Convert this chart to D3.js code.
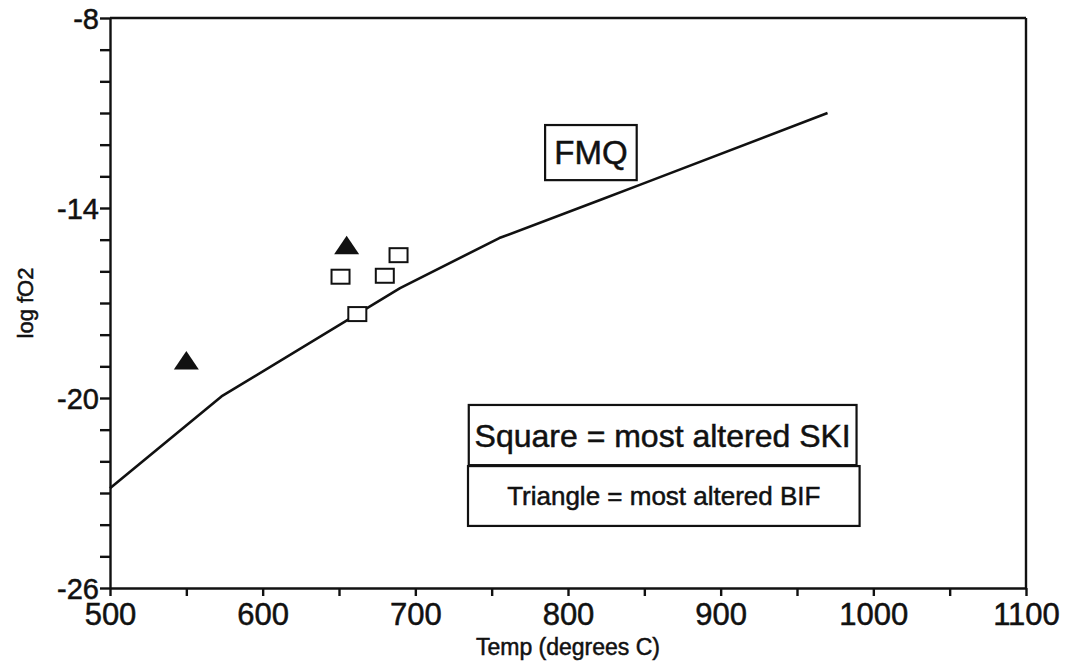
<!DOCTYPE html>
<html>
<head>
<meta charset="utf-8">
<script src="https://cdn.jsdelivr.net/npm/d3@7/dist/d3.min.js"></script>
<style>
  body { margin: 0; background: #fff; }
  svg { display: block; font-family: "Liberation Sans", Arial, sans-serif; }
  .axis path, .axis line { stroke: #111; stroke-width: 2.4; }
  .axis text, .lbl { fill: #111; stroke: #111; stroke-width: 0.5; }
</style>
</head>
<body>
<div id="chart"></div>
<script>
const WIDTH = 1065;
const HEIGHT = 666;
const MARGIN = { top: 18, right: 39, bottom: 78, left: 110 };

// FMQ buffer curve (temperature, log fO2)
const fmqTemp = [500, 573, 690, 755, 821, 847, 970];
const fmqLogF = [-22.85, -19.95, -16.53, -14.95, -13.75, -13.27, -11.0];

// most altered SKI (squares)
const squareTemp = [651, 680, 689, 662];
const squareLogF = [-16.17, -16.14, -15.49, -17.35];

// most altered BIF (triangles)
const triangleTemp = [550, 655];
const triangleLogF = [-18.83, -15.19];

const xTicks = d3.range(500, 1101, 50);
const xLabels = [500, 600, 700, 800, 900, 1000, 1100];
const yTicks = d3.range(-26, -7, 1);
const yLabels = [-26, -20, -14, -8];

// text boxes, in data units: [t0, t1, logF top, logF bottom]
const boxes = [
  { key: "fmq", t0: 785, t1: 845, f0: -11.38, f1: -13.12, label: "FMQ", size: 33 },
  { key: "ski", t0: 735, t1: 989, f0: -20.22, f1: -22.12, label: "Square = most altered SKI", size: 32 },
  { key: "bif", t0: 734.5, t1: 991, f0: -22.15, f1: -24.04, label: "Triangle = most altered BIF", size: 26 },
];

const svg = d3.select("#chart").append("svg").attr("width", WIDTH).attr("height", HEIGHT);

const x = d3.scaleLinear().domain([500, 1100]).range([MARGIN.left, WIDTH - MARGIN.right]);
const y = d3.scaleLinear().domain([-26, -8]).range([HEIGHT - MARGIN.bottom, MARGIN.top]);

// frame top and right
svg.append("line")
  .attr("x1", x(500)).attr("x2", x(1100)).attr("y1", y(-8)).attr("y2", y(-8))
  .attr("stroke", "#111").attr("stroke-width", 2.4);
svg.append("line")
  .attr("x1", x(1100)).attr("x2", x(1100)).attr("y1", y(-8)).attr("y2", y(-26))
  .attr("stroke", "#111").attr("stroke-width", 2.4);

svg.append("g")
  .attr("class", "axis x-axis")
  .attr("transform", `translate(0,${y(-26)})`)
  .call(d3.axisBottom(x).tickValues(xTicks).tickSize(8).tickSizeOuter(0)
    .tickFormat((d) => (xLabels.includes(d) ? d : "")))
  .call((g) => g.selectAll("text").attr("font-size", 31).attr("y", 8).attr("dy", "0.95em"));

svg.append("g")
  .attr("class", "axis y-axis")
  .attr("transform", `translate(${x(500)},0)`)
  .call(d3.axisLeft(y).tickValues(yTicks).tickSize(10).tickSizeOuter(0)
    .tickFormat((d) => (yLabels.includes(d) ? d : "")))
  .call((g) => g.selectAll("text").attr("font-size", 29).attr("x", -11).attr("dy", "0.36em"));

svg.selectAll(".axis .domain").attr("stroke-width", 2.4);

svg.append("text")
  .attr("class", "lbl")
  .attr("x", (x(500) + x(1100)) / 2)
  .attr("y", 655)
  .attr("text-anchor", "middle")
  .attr("font-size", 23)
  .attr("stroke-width", 0.3)
  .text("Temp (degrees C)");

svg.append("text")
  .attr("class", "lbl")
  .attr("transform", `translate(33,${(y(-8) + y(-26)) / 2}) rotate(-90)`)
  .attr("text-anchor", "middle")
  .attr("font-size", 22)
  .attr("stroke-width", 0.3)
  .text("log fO2");

// FMQ line
const line = d3.line().x((d) => x(d[0])).y((d) => y(d[1]));
svg.append("path")
  .datum(d3.zip(fmqTemp, fmqLogF))
  .attr("fill", "none")
  .attr("stroke", "#111")
  .attr("stroke-width", 2.6)
  .attr("stroke-linejoin", "round")
  .attr("d", line);

// squares
svg.append("g")
  .selectAll("rect")
  .data(d3.zip(squareTemp, squareLogF))
  .join("rect")
  .attr("x", (d) => x(d[0]) - 9)
  .attr("y", (d) => y(d[1]) - 7)
  .attr("width", 18)
  .attr("height", 14)
  .attr("fill", "#fff")
  .attr("stroke", "#111")
  .attr("stroke-width", 2);

// triangles
svg.append("g")
  .selectAll("path")
  .data(d3.zip(triangleTemp, triangleLogF))
  .join("path")
  .attr("transform", (d) => `translate(${x(d[0])},${y(d[1])})`)
  .attr("d", "M0,-10L12.5,8.5L-12.5,8.5Z")
  .attr("fill", "#111");

// text boxes
const boxG = svg.append("g").selectAll("g").data(boxes).join("g");
boxG.append("rect")
  .attr("x", (d) => x(d.t0))
  .attr("y", (d) => y(d.f0))
  .attr("width", (d) => x(d.t1) - x(d.t0))
  .attr("height", (d) => y(d.f1) - y(d.f0))
  .attr("fill", "#fff")
  .attr("stroke", "#111")
  .attr("stroke-width", 2.2);
boxG.append("text")
  .attr("class", "lbl")
  .attr("x", (d) => (x(d.t0) + x(d.t1)) / 2)
  .attr("y", (d) => (y(d.f0) + y(d.f1)) / 2)
  .attr("dy", "0.36em")
  .attr("text-anchor", "middle")
  .attr("font-size", (d) => d.size)
  .text((d) => d.label);
</script>
</body>
</html>
